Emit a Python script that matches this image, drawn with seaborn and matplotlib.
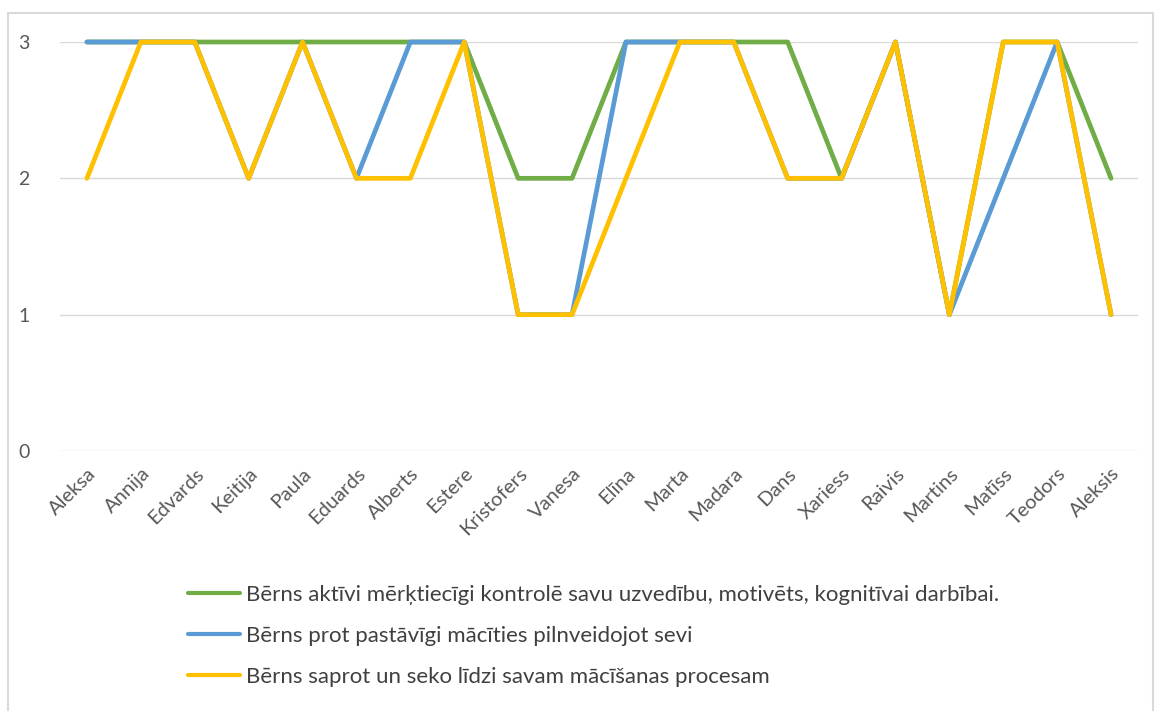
import matplotlib
matplotlib.use("Agg")
import matplotlib.pyplot as plt
import matplotlib.patches as mpatches
import seaborn as sns
import pandas as pd

names = ["Aleksa", "Annija", "Edvards", "Keitija", "Paula", "Eduards", "Alberts",
         "Estere", "Kristofers", "Vanesa", "Elīna", "Marta", "Madara", "Dans",
         "Xariess", "Raivis", "Martins", "Matīss", "Teodors", "Aleksis"]
series_names = [
    "Bērns aktīvi mērķtiecīgi kontrolē savu uzvedību, motivēts, kognitīvai darbībai.",
    "Bērns prot pastāvīgi mācīties pilnveidojot sevi",
    "Bērns saprot un seko līdzi savam mācīšanas procesam",
]
green_vals = [3, 3, 3, 3, 3, 3, 3, 3, 2, 2, 3, 3, 3, 3, 2, 3, 1, 3, 3, 2]
blue_vals = [3, 3, 3, 2, 3, 2, 3, 3, 1, 1, 3, 3, 3, 2, 2, 3, 1, 2, 3, 1]
yellow_vals = [2, 3, 3, 2, 3, 2, 2, 3, 1, 1, 2, 3, 3, 2, 2, 3, 1, 3, 3, 1]
yticks = [0, 1, 2, 3]
colors = ["#70AD47", "#5B9BD5", "#FFC000"]

sns.set_theme(style="white")
plt.rcParams["font.family"] = ["Lato", "DejaVu Sans"]

rows = []
for sname, vals in zip(series_names, [green_vals, blue_vals, yellow_vals]):
    for n, v in zip(names, vals):
        rows.append({"name": n, "value": v, "series": sname})
df = pd.DataFrame(rows)

W, H = 1155, 711
fig = plt.figure(figsize=(W / 100, H / 100), dpi=100)
ax = fig.add_axes([60 / W, 1 - 451 / H, (1138 - 60) / W, (451 - 42) / H])

sns.lineplot(data=df, x="name", y="value", hue="series", palette=colors,
             sort=False, linewidth=3.4, ax=ax, legend=False)
for ln in ax.lines:
    ln.set_clip_on(False)
    ln.set_solid_joinstyle("round")
    ln.set_solid_capstyle("round")

ax.set_xlim(-0.5, len(names) - 0.5)
ax.set_ylim(0, 3)
ax.set_yticks(yticks)
ax.set_yticklabels([str(t) for t in yticks])
ax.set_xticks(range(len(names)))
ax.set_xticklabels(names, rotation=45, ha="right", rotation_mode="anchor")
ax.grid(axis="y", color="#D9D9D9", linewidth=1.0)
ax.grid(axis="x", visible=False)
for s in ax.spines.values():
    s.set_visible(False)
ax.set_xlabel("")
ax.set_ylabel("")
ax.tick_params(axis="y", length=0, pad=22, labelsize=14, labelcolor="#595959")
ax.tick_params(axis="x", length=0, pad=10, labelsize=14.5, labelcolor="#595959")
ax.set_axisbelow(True)

handles = [plt.Line2D([], [], color=c, linewidth=3.0) for c in colors]
leg = fig.legend(handles, series_names, loc="upper left",
                 bbox_to_anchor=(168 / W, 1 - 565 / H), frameon=False,
                 fontsize=16, labelspacing=0.95, handlelength=2.34,
                 handletextpad=0.27, labelcolor="#404040")

rect = mpatches.Rectangle((8 / W, -0.05), (1153 - 8) / W, 1.05 - 13 / H,
                          transform=fig.transFigure, fill=False,
                          edgecolor="#D9D9D9", linewidth=1.5)
fig.patches.append(rect)

fig.savefig("out.png", dpi=100)
